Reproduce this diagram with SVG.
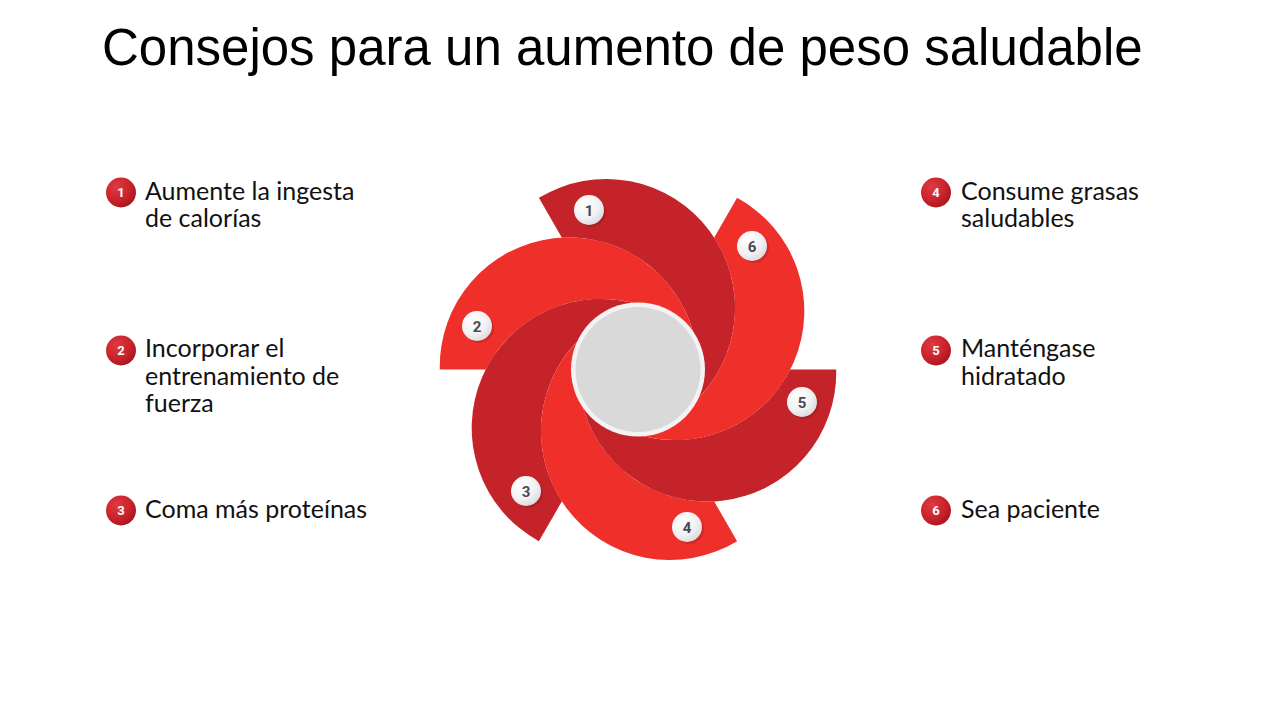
<svg xmlns="http://www.w3.org/2000/svg" width="1280" height="720" viewBox="0 0 1280 720">
<defs>
<style>
.title{font-family:"Liberation Sans",Arial,sans-serif;font-size:51px;fill:#000}
.lbl{font-family:Lato,"Open Sans",sans-serif;font-size:25px;fill:#111}
.dark{fill:#c4232a}
.bright{fill:#ef2f2a}
.bnum{font-family:Roboto,"Open Sans",sans-serif;font-size:15px;font-weight:700;fill:#4a4a55;text-anchor:middle}
.lnum{font-family:Roboto,"Open Sans",sans-serif;font-size:13px;font-weight:700;fill:#fff;text-anchor:middle}
</style>
<path id="blade" d="M -198.2 0 A 129 129 0 0 1 57.0 -29.67 A 129 129 0 0 0 -152.2 0 Z"/>
<radialGradient id="wb" cx="0.35" cy="0.3" r="0.8">
<stop offset="0" stop-color="#ffffff"/>
<stop offset="0.6" stop-color="#f1f1f3"/>
<stop offset="1" stop-color="#d6d6dc"/>
</radialGradient>
<radialGradient id="rb" cx="0.35" cy="0.3" r="0.8">
<stop offset="0" stop-color="#de3a40"/>
<stop offset="0.6" stop-color="#c8222a"/>
<stop offset="1" stop-color="#a3131a"/>
</radialGradient>
<g id="wbadge"><circle cx="2" cy="2" r="15" fill="#000" opacity="0.12"/><circle r="15" fill="url(#wb)"/></g>
<g id="rbadge"><circle r="15" fill="url(#rb)"/></g>
</defs>
<rect width="1280" height="720" fill="#fff"/>
<text class="title" x="102" y="65">Consejos para un aumento de peso saludable</text>

<g id="wheel">
<g id="blade1"><use href="#blade" class="dark" transform="translate(638 369.5) rotate(60)"/><use href="#wbadge" x="589" y="210"/><text class="bnum" x="589" y="215.5">1</text></g>
<g id="blade2"><use href="#blade" class="bright" transform="translate(638 369.5)"/><use href="#wbadge" x="477" y="326"/><text class="bnum" x="477" y="331.5">2</text></g>
<g id="blade3"><use href="#blade" class="dark" transform="translate(638 369.5) rotate(-60)"/><use href="#wbadge" x="526" y="491"/><text class="bnum" x="526" y="496.5">3</text></g>
<g id="blade4"><use href="#blade" class="bright" transform="translate(638 369.5) rotate(-120)"/><use href="#wbadge" x="687" y="527"/><text class="bnum" x="687" y="532.5">4</text></g>
<g id="blade5"><use href="#blade" class="dark" transform="translate(638 369.5) rotate(180)"/><use href="#wbadge" x="802" y="402"/><text class="bnum" x="802" y="407.5">5</text></g>
<g id="blade6"><use href="#blade" class="bright" transform="translate(638 369.5) rotate(120)"/><use href="#wbadge" x="752" y="246"/><text class="bnum" x="752" y="251.5">6</text></g>
<g id="center"><circle cx="638" cy="369.5" r="67" fill="#f3f3f3"/><circle cx="638" cy="369.5" r="62.5" fill="#d9d9d9"/></g>
</g>

<g id="item1"><use href="#rbadge" x="121" y="192.5"/><text class="lnum" x="121" y="197">1</text>
<text class="lbl" x="145" y="199.5">Aumente la ingesta</text><text class="lbl" x="145" y="227">de calorías</text></g>
<g id="item2"><use href="#rbadge" x="121" y="350.5"/><text class="lnum" x="121" y="355">2</text>
<text class="lbl" x="145" y="357">Incorporar el</text><text class="lbl" x="145" y="384.5">entrenamiento de</text><text class="lbl" x="145" y="412">fuerza</text></g>
<g id="item3"><use href="#rbadge" x="121" y="510.5"/><text class="lnum" x="121" y="515">3</text>
<text class="lbl" x="145" y="518">Coma más proteínas</text></g>
<g id="item4"><use href="#rbadge" x="936" y="192.5"/><text class="lnum" x="936" y="197">4</text>
<text class="lbl" x="961" y="199.5">Consume grasas</text><text class="lbl" x="961" y="227">saludables</text></g>
<g id="item5"><use href="#rbadge" x="936" y="350.5"/><text class="lnum" x="936" y="355">5</text>
<text class="lbl" x="961" y="357">Manténgase</text><text class="lbl" x="961" y="384.5">hidratado</text></g>
<g id="item6"><use href="#rbadge" x="936" y="510.5"/><text class="lnum" x="936" y="515">6</text>
<text class="lbl" x="961" y="518">Sea paciente</text></g>
</svg>
